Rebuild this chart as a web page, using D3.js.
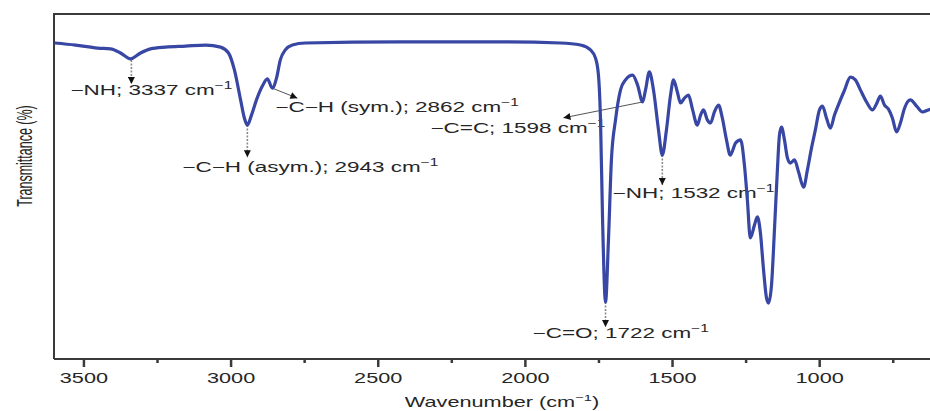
<!DOCTYPE html>
<html>
<head>
<meta charset="utf-8">
<script src="https://cdn.jsdelivr.net/npm/d3@7"></script>
<style>
  body { margin: 0; background: #fff; }
  text { font-family: "Liberation Sans", Arial, sans-serif; fill: #262626; }
</style>
</head>
<body>
<svg id="chart" width="930" height="411"></svg>
<script>
// spectrum: wavenumber (cm-1) and transmittance (arbitrary %)
var wavenumber = [3598, 3527, 3452, 3408, 3374, 3340, 3306, 3272, 3221, 3153, 3085, 3034, 3007, 2987, 2966, 2953,
  2943, 2929, 2912, 2892, 2875, 2858, 2844, 2831, 2814, 2790, 2746, 2423, 2083, 1879, 1811, 1777, 1760, 1750,
  1743, 1736, 1726, 1716, 1706, 1692, 1675, 1658, 1634, 1617, 1600, 1590, 1577, 1563, 1546, 1533, 1519, 1505,
  1495, 1482, 1471, 1458, 1444, 1430, 1414, 1403, 1393, 1380, 1369, 1356, 1342, 1329, 1315, 1302, 1284, 1267,
  1254, 1244, 1234, 1220, 1210, 1200, 1189, 1179, 1172, 1162, 1152, 1142, 1135, 1128, 1118, 1108, 1098, 1084,
  1070, 1053, 1040, 1026, 1013, 999, 989, 975, 962, 948, 935, 914, 894, 877, 860, 839, 819, 805, 792, 778,
  765, 751, 737, 724, 710, 690, 669, 649, 629, 608];
var transmittance = [91.6, 91.0, 90.1, 89.9, 88.7, 87.0, 88.7, 89.9, 90.4, 90.7, 91.0, 90.4, 88.7, 83.8, 75.1, 69.8,
  67.8, 70.7, 75.1, 79.1, 81.2, 78.5, 81.4, 86.7, 89.6, 91.0, 91.6, 91.9, 91.9, 91.6, 91.0, 89.6, 87.2, 82.3,
  69.3, 40.3, 16.5, 34.5, 57.7, 69.3, 78.0, 80.9, 82.3, 79.4, 74.5, 78.0, 83.2, 78.0, 66.4, 59.1, 66.4, 76.5,
  80.9, 77.4, 74.2, 75.6, 76.5, 72.2, 67.8, 70.7, 72.2, 69.3, 68.4, 71.6, 73.6, 69.8, 63.5, 59.1, 62.6, 63.5,
  56.2, 46.1, 35.1, 38.8, 41.2, 36.8, 25.8, 17.7, 16.2, 21.4, 37.4, 54.8, 64.9, 67.2, 63.5, 58.3, 56.8, 57.7,
  54.2, 49.8, 54.8, 61.2, 66.4, 72.2, 73.3, 69.8, 66.9, 70.7, 73.6, 77.9, 81.7, 80.9, 78.0, 74.5, 72.2, 74.0, 76.2, 73.6,
  72.5, 69.8, 65.8, 68.4, 72.7, 75.1, 73.3, 71.6, 72.2, 72.7];

var majorTicks = [3500, 3000, 2500, 2000, 1500, 1000];
var minorTicks = [3250, 2750, 2250, 1750, 1250, 750];

// band labels: text, band position (wavenumber, T) and arrow tip (wavenumber, T)
var noteText = ["\u2212NH; 3337 cm", "\u2212C\u2212H (asym.); 2943 cm", "\u2212C\u2212H (sym.); 2862 cm",
  "\u2212C=C; 1598 cm", "\u2212NH; 1532 cm", "\u2212C=O; 1722 cm"];
var noteBand = [[3337, 86.7], [2943, 67.8], [2858, 78.5], [1600, 74.5], [1533, 59.1], [1726, 16.5]];
var noteTip = [[3337, 79.7], [2943, 58.5], [2773, 75.6], [1869, 69.9], [1533, 50.4], [1726, 9.3]];
var noteAt = [[3544, 76.5], [3164, 54.2], [2848, 71.6], [2321, 65.5], [1702, 46.7], [1974, 6.1]];
var noteDotted = [true, true, false, false, true, true];

var svg = d3.select("#chart");
var plotLeft = 54, plotTop = 14, plotBottom = 359;
var sx = 1.55;   // the picture is stretched sideways, so is its text

var x = d3.scaleLinear().domain([3600, 600]).range([plotLeft, plotLeft + 3000 * 0.2943]);
var y = d3.scaleLinear().domain([0, 100]).range([plotBottom, plotTop]);

var defs = svg.append("defs");
defs.append("clipPath").attr("id", "plot")
    .append("rect").attr("x", plotLeft).attr("y", plotTop)
    .attr("width", 930 - plotLeft).attr("height", plotBottom - plotTop);
defs.append("marker").attr("id", "head")
    .attr("viewBox", "0 0 10 10").attr("refX", 10).attr("refY", 5)
    .attr("markerWidth", 9).attr("markerHeight", 7).attr("markerUnits", "userSpaceOnUse")
    .attr("orient", "auto")
    .append("path").attr("d", "M0,0L10,5L0,10Z").attr("fill", "#111");

// frame
svg.append("path")
    .attr("d", "M" + plotLeft + "," + plotBottom + "V" + plotTop + "H930")
    .attr("fill", "none").attr("stroke", "#3a3a3a").attr("stroke-width", 2);

// x axis: major and minor ticks
var axisG = svg.append("g").attr("transform", "translate(0," + plotBottom + ")");
axisG.call(d3.axisBottom(x).tickValues(majorTicks).tickSize(8).tickFormat(d3.format("d")));
var minorG = svg.append("g").attr("transform", "translate(0," + plotBottom + ")");
minorG.call(d3.axisBottom(x).tickValues(minorTicks).tickSize(4).tickFormat(""));
svg.selectAll(".domain").attr("stroke", "#3a3a3a").attr("stroke-width", 2).attr("d", "M" + plotLeft + ",0H930");
svg.selectAll(".tick line").attr("stroke", "#3a3a3a").attr("stroke-width", 2.5);
axisG.selectAll(".tick text")
    .attr("y", 0).attr("dy", 0)
    .attr("font-size", 14)
    .attr("fill", "#262626")
    .attr("transform", "translate(0,24) scale(" + sx + ",1)");

// axis titles
var xt = svg.append("text")
    .attr("transform", "translate(502,407) scale(" + sx + ",1)")
    .attr("text-anchor", "middle").attr("font-size", 14);
xt.append("tspan").text("Wavenumber (cm");
xt.append("tspan").attr("font-size", 9.5).attr("dy", -6).text("\u22121");
xt.append("tspan").attr("dy", 6).text(")");

svg.append("text")
    .attr("transform", "translate(24,156) scale(1.75,1) rotate(-90)")
    .attr("text-anchor", "middle").attr("dy", "0.35em").attr("font-size", 12.5)
    .text("Transmittance (%)");

// spectrum
var spectrum = wavenumber.map(function (w, i) { return { w: w, t: transmittance[i] }; });
var line = d3.line()
    .x(function (d) { return x(d.w); })
    .y(function (d) { return y(d.t); })
    .curve(d3.curveMonotoneX);

// arrows first, curve over them
var notes = noteText.map(function (t, i) {
  return { text: t, band: noteBand[i], tip: noteTip[i], at: noteAt[i], dotted: noteDotted[i] };
});

svg.selectAll("line.arrow")
    .data(notes)
    .enter()
    .append("line")
    .attr("class", "arrow")
    .attr("x1", function (d) { return x(d.band[0]); })
    .attr("y1", function (d) { return y(d.band[1]); })
    .attr("x2", function (d) { return x(d.tip[0]); })
    .attr("y2", function (d) { return y(d.tip[1]); })
    .attr("stroke", function (d) { return d.dotted ? "#8a8a8a" : "#555"; })
    .attr("stroke-width", function (d) { return d.dotted ? 1.6 : 1; })
    .attr("stroke-dasharray", function (d) { return d.dotted ? "2,1.5" : null; })
    .attr("marker-end", "url(#head)");

var labels = svg.selectAll("text.note")
    .data(notes)
    .enter()
    .append("text")
    .attr("class", "note")
    .attr("font-size", 14.5)
    .attr("transform", function (d) {
      return "translate(" + x(d.at[0]) + "," + y(d.at[1]) + ") scale(" + sx + ",1)";
    });
labels.append("tspan").text(function (d) { return d.text; });
labels.append("tspan").attr("font-size", 10).attr("dy", -6).text("\u22121");

svg.append("path")
    .datum(spectrum)
    .attr("clip-path", "url(#plot)")
    .attr("d", line)
    .attr("fill", "none")
    .attr("stroke", "#3846a4")
    .attr("stroke-width", 3.2)
    .attr("stroke-linejoin", "round");
</script>
</body>
</html>
